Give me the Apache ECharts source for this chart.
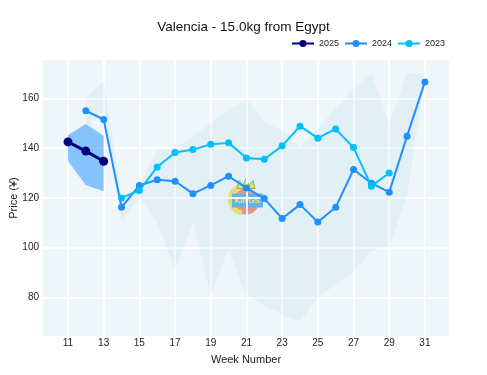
<!DOCTYPE html>
<html><head><meta charset="utf-8">
<script src="https://cdn.jsdelivr.net/npm/echarts@6/dist/echarts.min.js"></script>
<style>html,body{margin:0;padding:0;background:#fff}#c{width:487px;height:375px}</style>
</head><body><div id="c"></div>
<script>
// ---- data ----
const xTicks = [11, 13, 15, 17, 19, 21, 23, 25, 27, 29, 31];
const yTicks = [80, 100, 120, 140, 160];

const weeks2025 = [11, 12, 13];
const price2025 = [142.5, 138.8, 134.7];
const band2025Low = [134.8, 125.1, 122.7];
const band2025High = [145.2, 149.7, 145.0];

const weeks2024 = [12, 13, 14, 15, 16, 17, 18, 19, 20, 21, 22, 23, 24, 25, 26, 27, 28, 29, 30, 31];
const price2024 = [155.0, 151.5, 116.2, 125.0, 127.3, 126.7, 121.7, 125.0, 128.7, 124.0, 119.7, 111.7, 117.3, 110.3, 116.2, 131.4, 125.9, 122.3, 144.8, 166.6];

const weeks2023 = [14, 15, 16, 17, 18, 19, 20, 21, 22, 23, 24, 25, 26, 27, 28, 29];
const price2023 = [120.0, 123.0, 132.4, 138.2, 139.4, 141.5, 142.1, 136.0, 135.5, 140.9, 148.8, 144.0, 147.7, 140.2, 124.7, 130.0];

const rangeWeeks = [12, 13, 14, 15, 16, 17, 18, 19, 20, 21, 22, 23, 24, 25, 26, 27, 28, 29, 30, 31];
const rangeLow  = [148, 155, 110.4, 120.4, 109.8, 90.6, 109.8, 80.9, 99.7, 80.9, 77, 73, 70.3, 80, 85, 90.2, 99, 100.6, 121, 169];
const rangeHigh = [160, 167, 120, 125, 139.5, 140, 145, 150, 155, 159.8, 150.4, 147.2, 140.4, 148, 156, 164, 169.7, 150.2, 170.1, 170.1];

// ---- chart ----
const FONT = '"Liberation Sans", Arial, sans-serif';
const pairs = (xs, ys) => xs.map((x, i) => [x, ys[i]]);

function bandRender(weeks, lo, hi, color) {
  return function (params, api) {
    if (params.dataIndex !== 0) return null;
    const pts = [];
    for (let i = 0; i < weeks.length; i++) pts.push(api.coord([weeks[i], hi[i]]));
    for (let i = weeks.length - 1; i >= 0; i--) pts.push(api.coord([weeks[i], lo[i]]));
    return { type: 'polygon', shape: { points: pts }, style: { fill: color } };
  };
}

const chart = echarts.init(document.getElementById('c'), null, { renderer: 'canvas' });
chart.setOption({
  animation: false,
  backgroundColor: '#ffffff',
  textStyle: { fontFamily: FONT },
  title: {
    text: 'Valencia - 15.0kg from Egypt',
    left: 'center', top: 15,
    textStyle: { fontFamily: FONT, fontSize: 13.5, fontWeight: 'normal', color: '#111' }
  },
  legend: {
    data: ['2025', '2024', '2023'],
    left: 291, top: 39, padding: 0,
    itemWidth: 22, itemHeight: 9, itemGap: 5,
    textStyle: { fontFamily: FONT, fontSize: 9, color: '#222' }
  },
  grid: {
    left: 43, top: 60, width: 406, height: 276,
    outerBoundsMode: 'none', containLabel: false,
    show: true, backgroundColor: '#eef6fa', borderWidth: 0
  },
  xAxis: {
    type: 'value', min: 9.6, max: 32.35,
    name: 'Week Number', nameLocation: 'middle', nameGap: 18, nameMoveOverlap: false,
    nameTextStyle: { fontFamily: FONT, fontSize: 11, color: '#222' },
    axisLine: { show: false },
    axisTick: { show: false, customValues: xTicks },
    axisLabel: { customValues: xTicks, fontFamily: FONT, fontSize: 10, color: '#222', margin: 2 },
    splitLine: { show: true, lineStyle: { color: '#ffffff', width: 2 } }
  },
  yAxis: {
    type: 'value', min: 64.5, max: 175.4,
    name: 'Price (¥)', nameLocation: 'middle', nameGap: 24, nameRotate: 90, nameMoveOverlap: false,
    nameTextStyle: { fontFamily: FONT, fontSize: 11, color: '#222' },
    axisLine: { show: false },
    axisTick: { show: false, customValues: yTicks },
    axisLabel: { customValues: yTicks, fontFamily: FONT, fontSize: 10, color: '#222', margin: 4 },
    splitLine: { show: true, lineStyle: { color: '#ffffff', width: 2 } }
  },
  series: [
    {
      type: 'custom', name: 'range', silent: true, z: 1,
      renderItem: bandRender(rangeWeeks, rangeLow, rangeHigh, 'rgba(173,216,230,0.18)'),
      data: rangeWeeks.map((w, i) => [w, rangeLow[i], rangeHigh[i]]),
      encode: { x: 0, y: [1, 2] }
    },
    {
      type: 'custom', name: 'band2025', silent: true, z: 2,
      renderItem: bandRender(weeks2025, band2025Low, band2025High, 'rgba(30,144,255,0.5)'),
      data: weeks2025.map((w, i) => [w, band2025Low[i], band2025High[i]]),
      encode: { x: 0, y: [1, 2] }
    },
    {
      type: 'line', name: '2024', z: 3, data: pairs(weeks2024, price2024),
      symbol: 'circle', symbolSize: 7,
      lineStyle: { color: '#1e90ff', width: 2 },
      itemStyle: { color: '#1e90ff' }
    },
    {
      type: 'line', name: '2023', z: 4, data: pairs(weeks2023, price2023),
      symbol: 'circle', symbolSize: 7,
      lineStyle: { color: '#00bfff', width: 2 },
      itemStyle: { color: '#00bfff' }
    },
    {
      type: 'line', name: '2025', z: 5, data: pairs(weeks2025, price2025),
      symbol: 'circle', symbolSize: 9,
      lineStyle: { color: '#000080', width: 3 },
      itemStyle: { color: '#000080' }
    }
  ],
  graphic: [
    {
      type: 'group', left: 228, top: 178, z: 100, silent: true,
      children: [
        { type: 'circle', shape: { cx: 19, cy: 23, r: 13 }, style: { fill: '#f2877a' } },
        { type: 'sector', shape: { cx: 17, cy: 21, r: 16, r0: 11, startAngle: Math.PI * 0.55, endAngle: Math.PI * 1.35 }, style: { fill: '#f3df4f' } },
        { type: 'polygon', shape: { points: [[10, 10], [12, 2], [16, 7], [19, 0], [22, 7], [26, 2], [28, 10]] }, style: { fill: '#f3df4f', stroke: '#6bb34a', lineWidth: 1 } },
        { type: 'rect', shape: { x: 5, y: 15, width: 31, height: 14 }, style: { fill: '#5aa9e6' } },
        { type: 'text', style: { x: 20.5, y: 22, text: 'KINGS', fill: '#f6e65a', font: 'bold 8px ' + FONT, align: 'center', verticalAlign: 'middle' } }
      ]
    }
  ]
});
</script>
</body></html>
